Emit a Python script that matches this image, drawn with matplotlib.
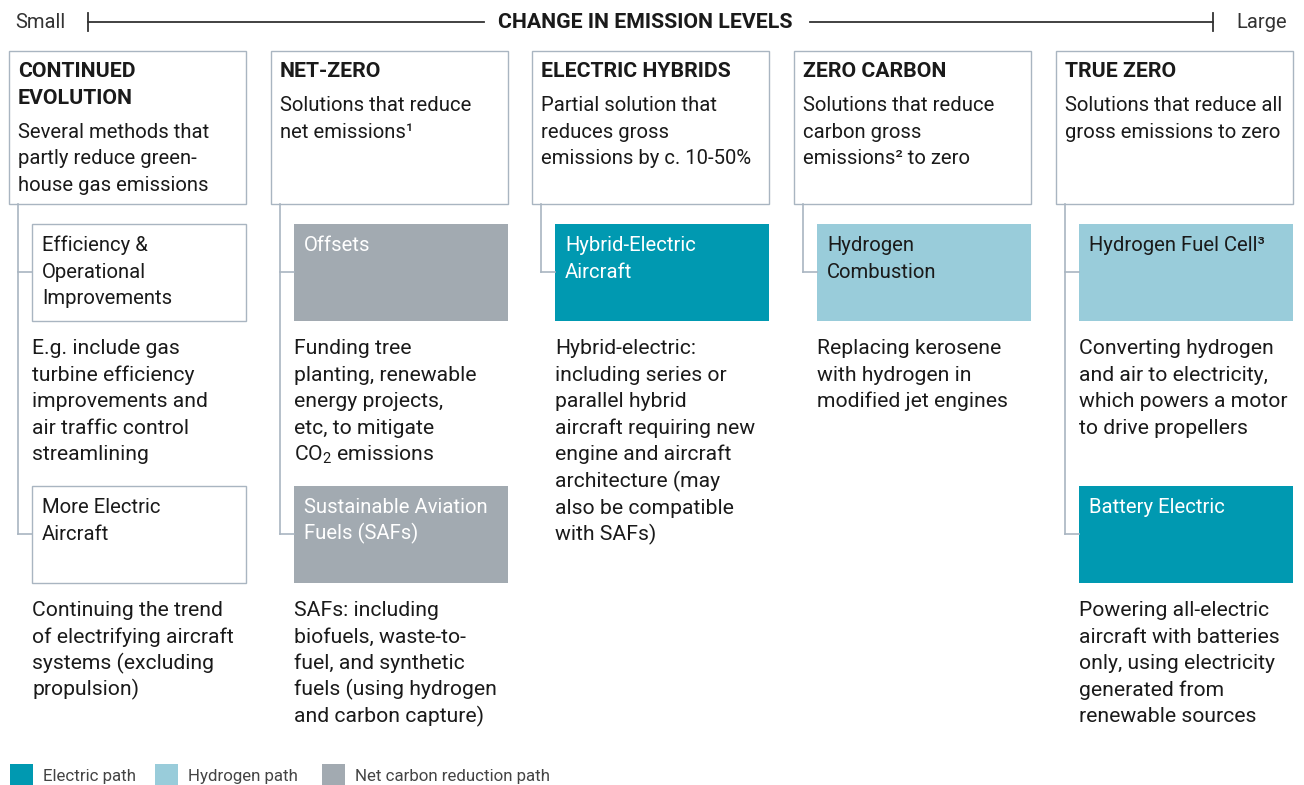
import matplotlib
matplotlib.use("Agg")
import matplotlib.pyplot as plt
from matplotlib.patches import Rectangle

plt.rcParams['font.family'] = ['Roboto', 'DejaVu Sans']
plt.rcParams['mathtext.fontset'] = 'custom'
plt.rcParams['mathtext.rm'] = 'Roboto'
plt.rcParams['mathtext.it'] = 'Roboto:italic'
plt.rcParams['mathtext.bf'] = 'Roboto:bold'

# Columns, from small to large change in emission levels
column_titles = ["CONTINUED\nEVOLUTION", "NET-ZERO", "ELECTRIC HYBRIDS", "ZERO CARBON", "TRUE ZERO"]
column_notes = [
    "Several methods that\npartly reduce green-\nhouse gas emissions",
    "Solutions that reduce\nnet emissions¹",
    "Partial solution that\nreduces gross\nemissions by c. 10-50%",
    "Solutions that reduce\ncarbon gross\nemissions² to zero",
    "Solutions that reduce all\ngross emissions to zero",
]

# Solutions under each column
solution_column = [0, 0, 1, 1, 2, 3, 4, 4]
solution_row = [0, 1, 0, 1, 0, 0, 0, 1]
solution_labels = [
    "Efficiency &\nOperational\nImprovements",
    "More Electric\nAircraft",
    "Offsets",
    "Sustainable Aviation\nFuels (SAFs)",
    "Hybrid-Electric\nAircraft",
    "Hydrogen\nCombustion",
    "Hydrogen Fuel Cell³",
    "Battery Electric",
]
solution_paths = ["none", "none", "net", "net", "electric", "hydrogen", "hydrogen", "electric"]
solution_notes = [
    "E.g. include gas\nturbine efficiency\nimprovements and\nair traffic control\nstreamlining",
    "Continuing the trend\nof electrifying aircraft\nsystems (excluding\npropulsion)",
    "Funding tree\nplanting, renewable\nenergy projects,\netc, to mitigate\nCO$_{2}$ emissions",
    "SAFs: including\nbiofuels, waste-to-\nfuel, and synthetic\nfuels (using hydrogen\nand carbon capture)",
    "Hybrid-electric:\nincluding series or\nparallel hybrid\naircraft requiring new\nengine and aircraft\narchitecture (may\nalso be compatible\nwith SAFs)",
    "Replacing kerosene\nwith hydrogen in\nmodified jet engines",
    "Converting hydrogen\nand air to electricity,\nwhich powers a motor\nto drive propellers",
    "Powering all-electric\naircraft with batteries\nonly, using electricity\ngenerated from\nrenewable sources",
]

legend_paths = ["electric", "hydrogen", "net"]
legend_labels = ["Electric path", "Hydrogen path", "Net carbon reduction path"]

# styling
path_fill = {"none": "white", "electric": "#0099B1", "hydrogen": "#99CCDA", "net": "#A2AAB1"}
path_text = {"none": "#1a1a1a", "electric": "white", "hydrogen": "#1a1a1a", "net": "white"}
edge = "#A9B5C1"
ink = "#1a1a1a"
fs_title = 15.3
fs = 14.6
fs_note = 15.2
line_h = 26.6

col_left = [9, 271, 532, 794, 1056]
col_w = 237
top_y0, top_y1 = 51, 204
row_y = [224, 486]
sub_h = 97
sub_off = 23


def lines(x, y, txt, color=ink, weight="normal", size=fs):
    for i, s in enumerate(txt.split("\n")):
        ax.text(x, y + i * line_h, s, color=color, fontsize=size, fontweight=weight,
                ha="left", va="baseline")


fig = plt.figure(figsize=(13.04, 7.85), dpi=100)
ax = fig.add_axes([0, 0, 1, 1])
ax.set_xlim(0, 1304)
ax.set_ylim(785, 0)
ax.axis("off")

# header scale
ax.text(15, 22, "Small", fontsize=14.5, color="#333333", ha="left", va="center")
ax.text(1287, 22, "Large", fontsize=14.5, color="#333333", ha="right", va="center")
ax.text(645, 22, "CHANGE IN EMISSION LEVELS", fontsize=fs_title, fontweight="bold",
        color=ink, ha="center", va="center")
ax.plot([88, 484], [22, 22], color="#333333", lw=1.3)
ax.plot([810, 1213], [22, 22], color="#333333", lw=1.3)
ax.plot([88, 88], [13, 31], color="#333333", lw=1.3)
ax.plot([1213, 1213], [13, 31], color="#333333", lw=1.3)

# top boxes
for c, left in enumerate(col_left):
    ax.add_patch(Rectangle((left, top_y0), col_w, top_y1 - top_y0, facecolor="white",
                           edgecolor=edge, lw=1.0))
    title = column_titles[c]
    lines(left + 9, top_y0 + 26, title, weight="bold", size=fs_title)
    n_title = title.count("\n") + 1
    lines(left + 9, top_y0 + 26 + (n_title - 1) * line_h + 34, column_notes[c])

    # connector down to the lowest solution of this column
    rows = [solution_row[i] for i in range(len(solution_column)) if solution_column[i] == c]
    cx = left + 9
    ax.plot([cx, cx], [top_y1, row_y[max(rows)] + 48], color=edge, lw=1.2)

# solution boxes
for i, c in enumerate(solution_column):
    x0 = col_left[c] + sub_off
    y0 = row_y[solution_row[i]]
    cx = col_left[c] + 9
    ax.plot([cx, x0], [y0 + 48, y0 + 48], color=edge, lw=1.2)
    p = solution_paths[i]
    if p == "none":
        ax.add_patch(Rectangle((x0, y0), col_w - sub_off, sub_h, facecolor="white",
                               edgecolor=edge, lw=1.0))
    else:
        ax.add_patch(Rectangle((x0, y0), col_w - sub_off, sub_h, facecolor=path_fill[p],
                               edgecolor="none"))
    lines(x0 + 10, y0 + 27, solution_labels[i], color=path_text[p])
    lines(x0, y0 + sub_h + 33, solution_notes[i], size=fs_note)

# legend
lx = [10, 155, 322]
for k, p in enumerate(legend_paths):
    ax.add_patch(Rectangle((lx[k], 764), 23, 22, facecolor=path_fill[p], edgecolor="none"))
    ax.text(lx[k] + 33, 776, legend_labels[k], fontsize=12.2, color="#444444",
            ha="left", va="center")

fig.savefig("out.png", dpi=100)
